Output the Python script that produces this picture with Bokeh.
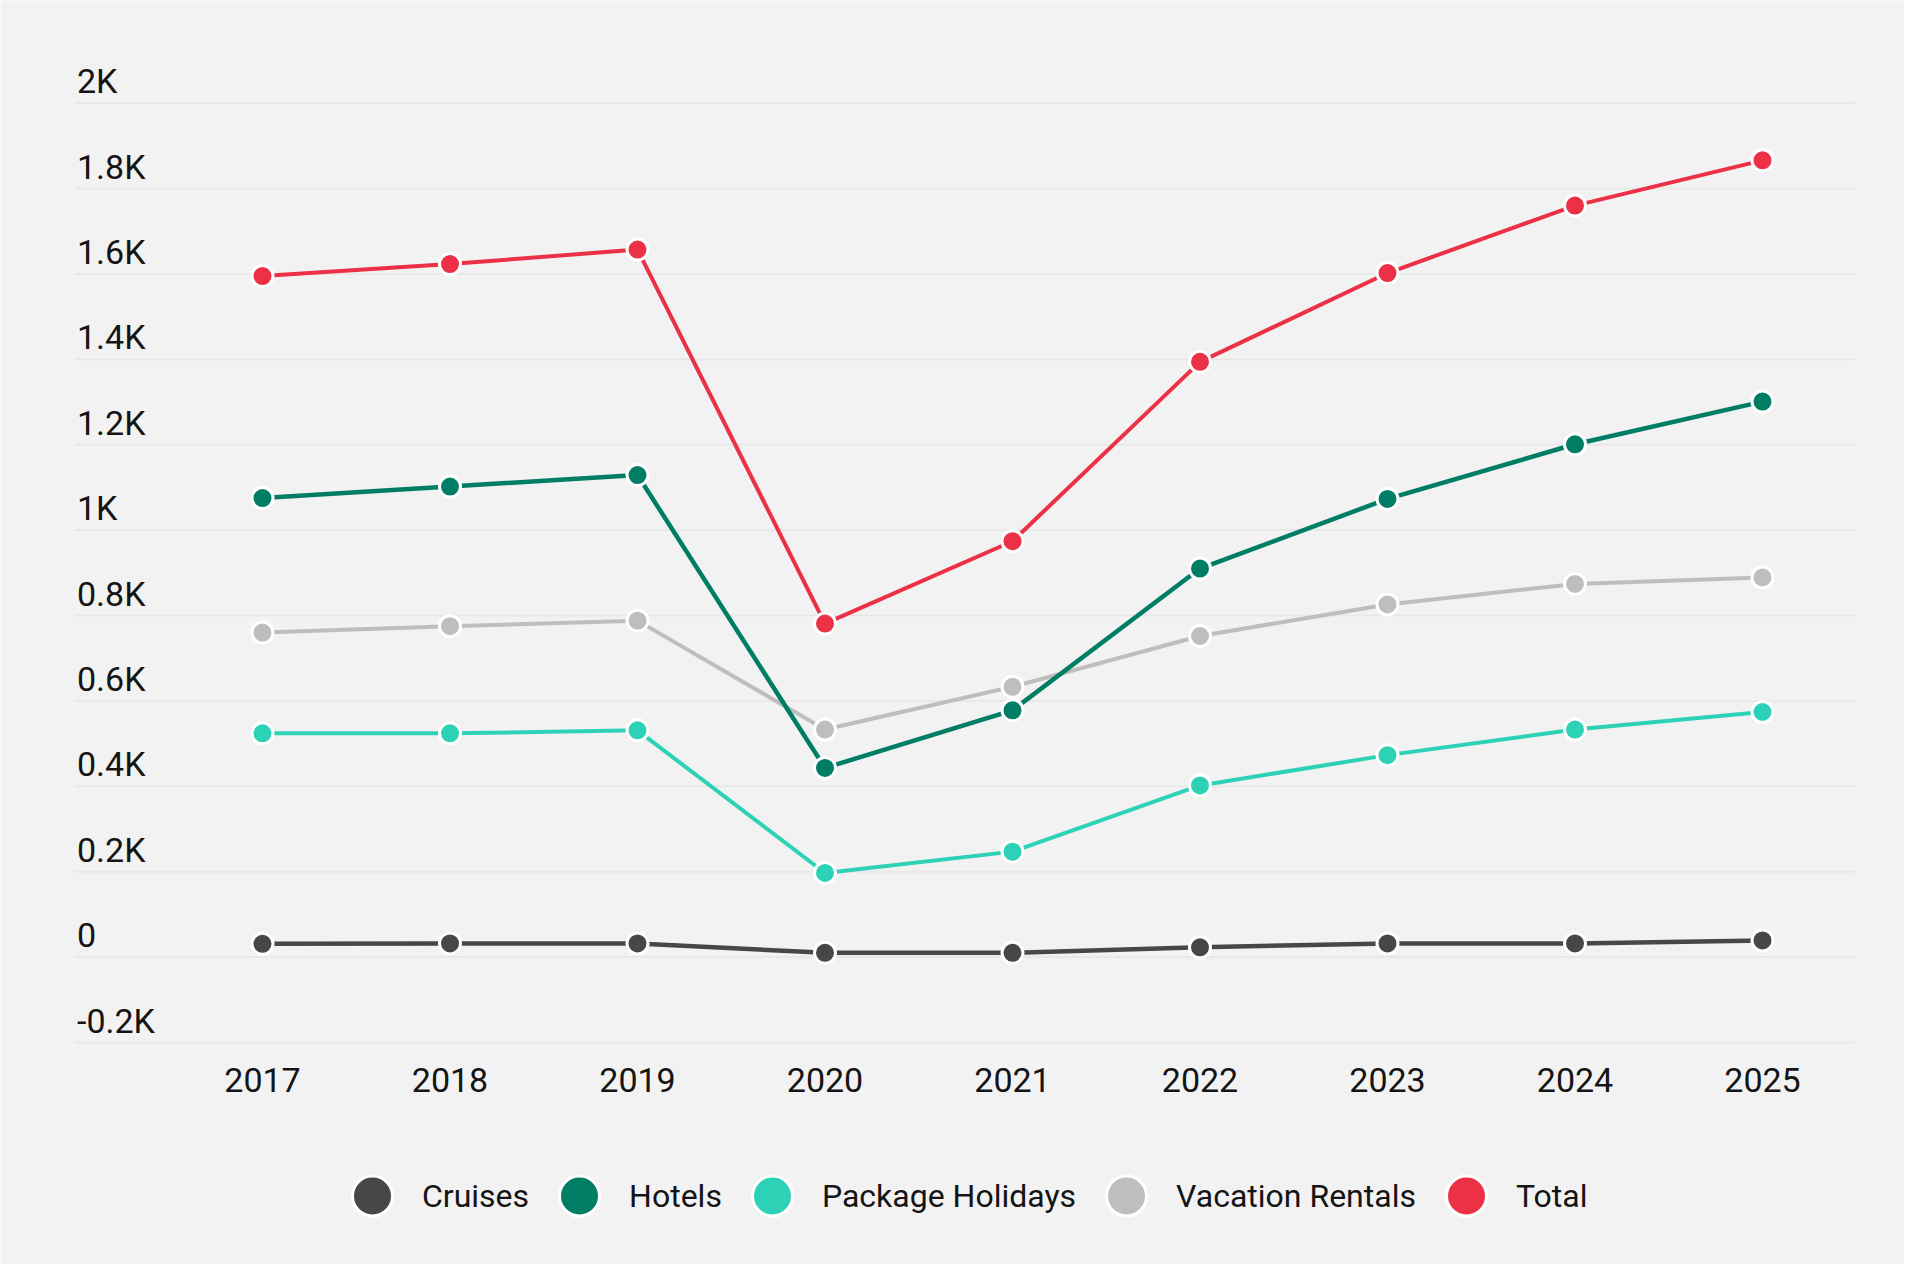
from bokeh.plotting import figure
from bokeh.models import Legend, LegendItem
from bokeh.core.properties import value
from bokeh.embed import file_html
from bokeh.resources import INLINE

years = [2017, 2018, 2019, 2020, 2021, 2022, 2023, 2024, 2025]
x_tick_labels = ["2017", "2018", "2019", "2020", "2021", "2022", "2023", "2024", "2025"]
cruises = [31, 32, 32, 10, 10, 23, 32, 32, 39]
hotels = [1075, 1102, 1129, 443, 578, 910, 1073, 1201, 1301]
package_holidays = [524, 524, 531, 197, 247, 402, 473, 533, 574]
vacation_rentals = [760, 775, 788, 533, 633, 752, 826, 874, 889]
total = [1595, 1623, 1657, 781, 974, 1394, 1602, 1760, 1866]

series_names = ["Cruises", "Hotels", "Package Holidays", "Vacation Rentals", "Total"]
series_colors = ["#474747", "#007d65", "#2dd2b6", "#bebebe", "#ec3045"]
y_ticks = [-200, 0, 200, 400, 600, 800, 1000, 1200, 1400, 1600, 1800, 2000]
y_tick_labels = ["-0.2K", "0", "0.2K", "0.4K", "0.6K", "0.8K", "1K", "1.2K",
                 "1.4K", "1.6K", "1.8K", "2K"]

FONT = "Roboto"
TXT = "#141414"
BG = "#f2f2f2"
# the frame covers the whole figure; ranges chosen so the grid sits where the reference has it
X0, X1 = 2015.6027, 2025.7573
Y0, Y1 = -719.9, 2240.3
GRID_X0, GRID_X1 = 2016.0, 2025.496

p = figure(width=1904, height=1264, x_range=(X0, X1), y_range=(Y0, Y1),
           output_backend="svg", toolbar_location=None,
           min_border_left=0, min_border_right=0,
           min_border_top=0, min_border_bottom=0)
p.background_fill_color = BG
p.border_fill_color = BG
p.outline_line_color = None
p.xaxis.visible = False
p.yaxis.visible = False
p.xgrid.visible = False
p.ygrid.visible = False

# horizontal grid lines spanning the plotting area
p.segment(x0=[GRID_X0] * len(y_ticks), x1=[GRID_X1] * len(y_ticks), y0=y_ticks, y1=y_ticks,
          line_color="#e8e8e8", line_width=2)

# y tick labels drawn above grid lines, left aligned
p.text(x=[GRID_X0] * len(y_ticks), y=y_ticks, text=y_tick_labels,
       text_font=value(FONT), text_font_size="34px", text_color=TXT,
       text_align="left", text_baseline="alphabetic", x_offset=2, y_offset=-22)

# x tick labels under the lowest grid line
p.text(x=years, y=[y_ticks[0]] * len(years), text=x_tick_labels,
       text_font=value(FONT), text_font_size="34px", text_color=TXT,
       text_align="center", text_baseline="middle", y_offset=37)

data = {"Cruises": cruises, "Hotels": hotels, "Package Holidays": package_holidays,
        "Vacation Rentals": vacation_rentals, "Total": total}
color_of = dict(zip(series_names, series_colors))
width_of = {"Cruises": 4.5, "Hotels": 4.5, "Package Holidays": 4,
            "Vacation Rentals": 4, "Total": 4}

line_order = ["Cruises", "Package Holidays", "Vacation Rentals", "Hotels", "Total"]
for name in line_order:
    p.line(years, data[name], line_color=color_of[name], line_width=width_of[name])

scatter_r = {}
for name in series_names:
    scatter_r[name] = p.scatter(years, data[name], size=21, fill_color=color_of[name],
                                line_color="white", line_width=3)

legend = Legend(items=[LegendItem(label=n, renderers=[scatter_r[n]]) for n in series_names],
                orientation="horizontal", location=(322, 16),
                glyph_width=100, glyph_height=105, label_standoff=0, spacing=0,
                label_text_font=FONT, label_text_font_size="32px", label_text_color=TXT,
                background_fill_alpha=0, border_line_color=None, padding=0, margin=0)
p.add_layout(legend, "center")

open("out.html", "w").write(file_html(p, INLINE))
